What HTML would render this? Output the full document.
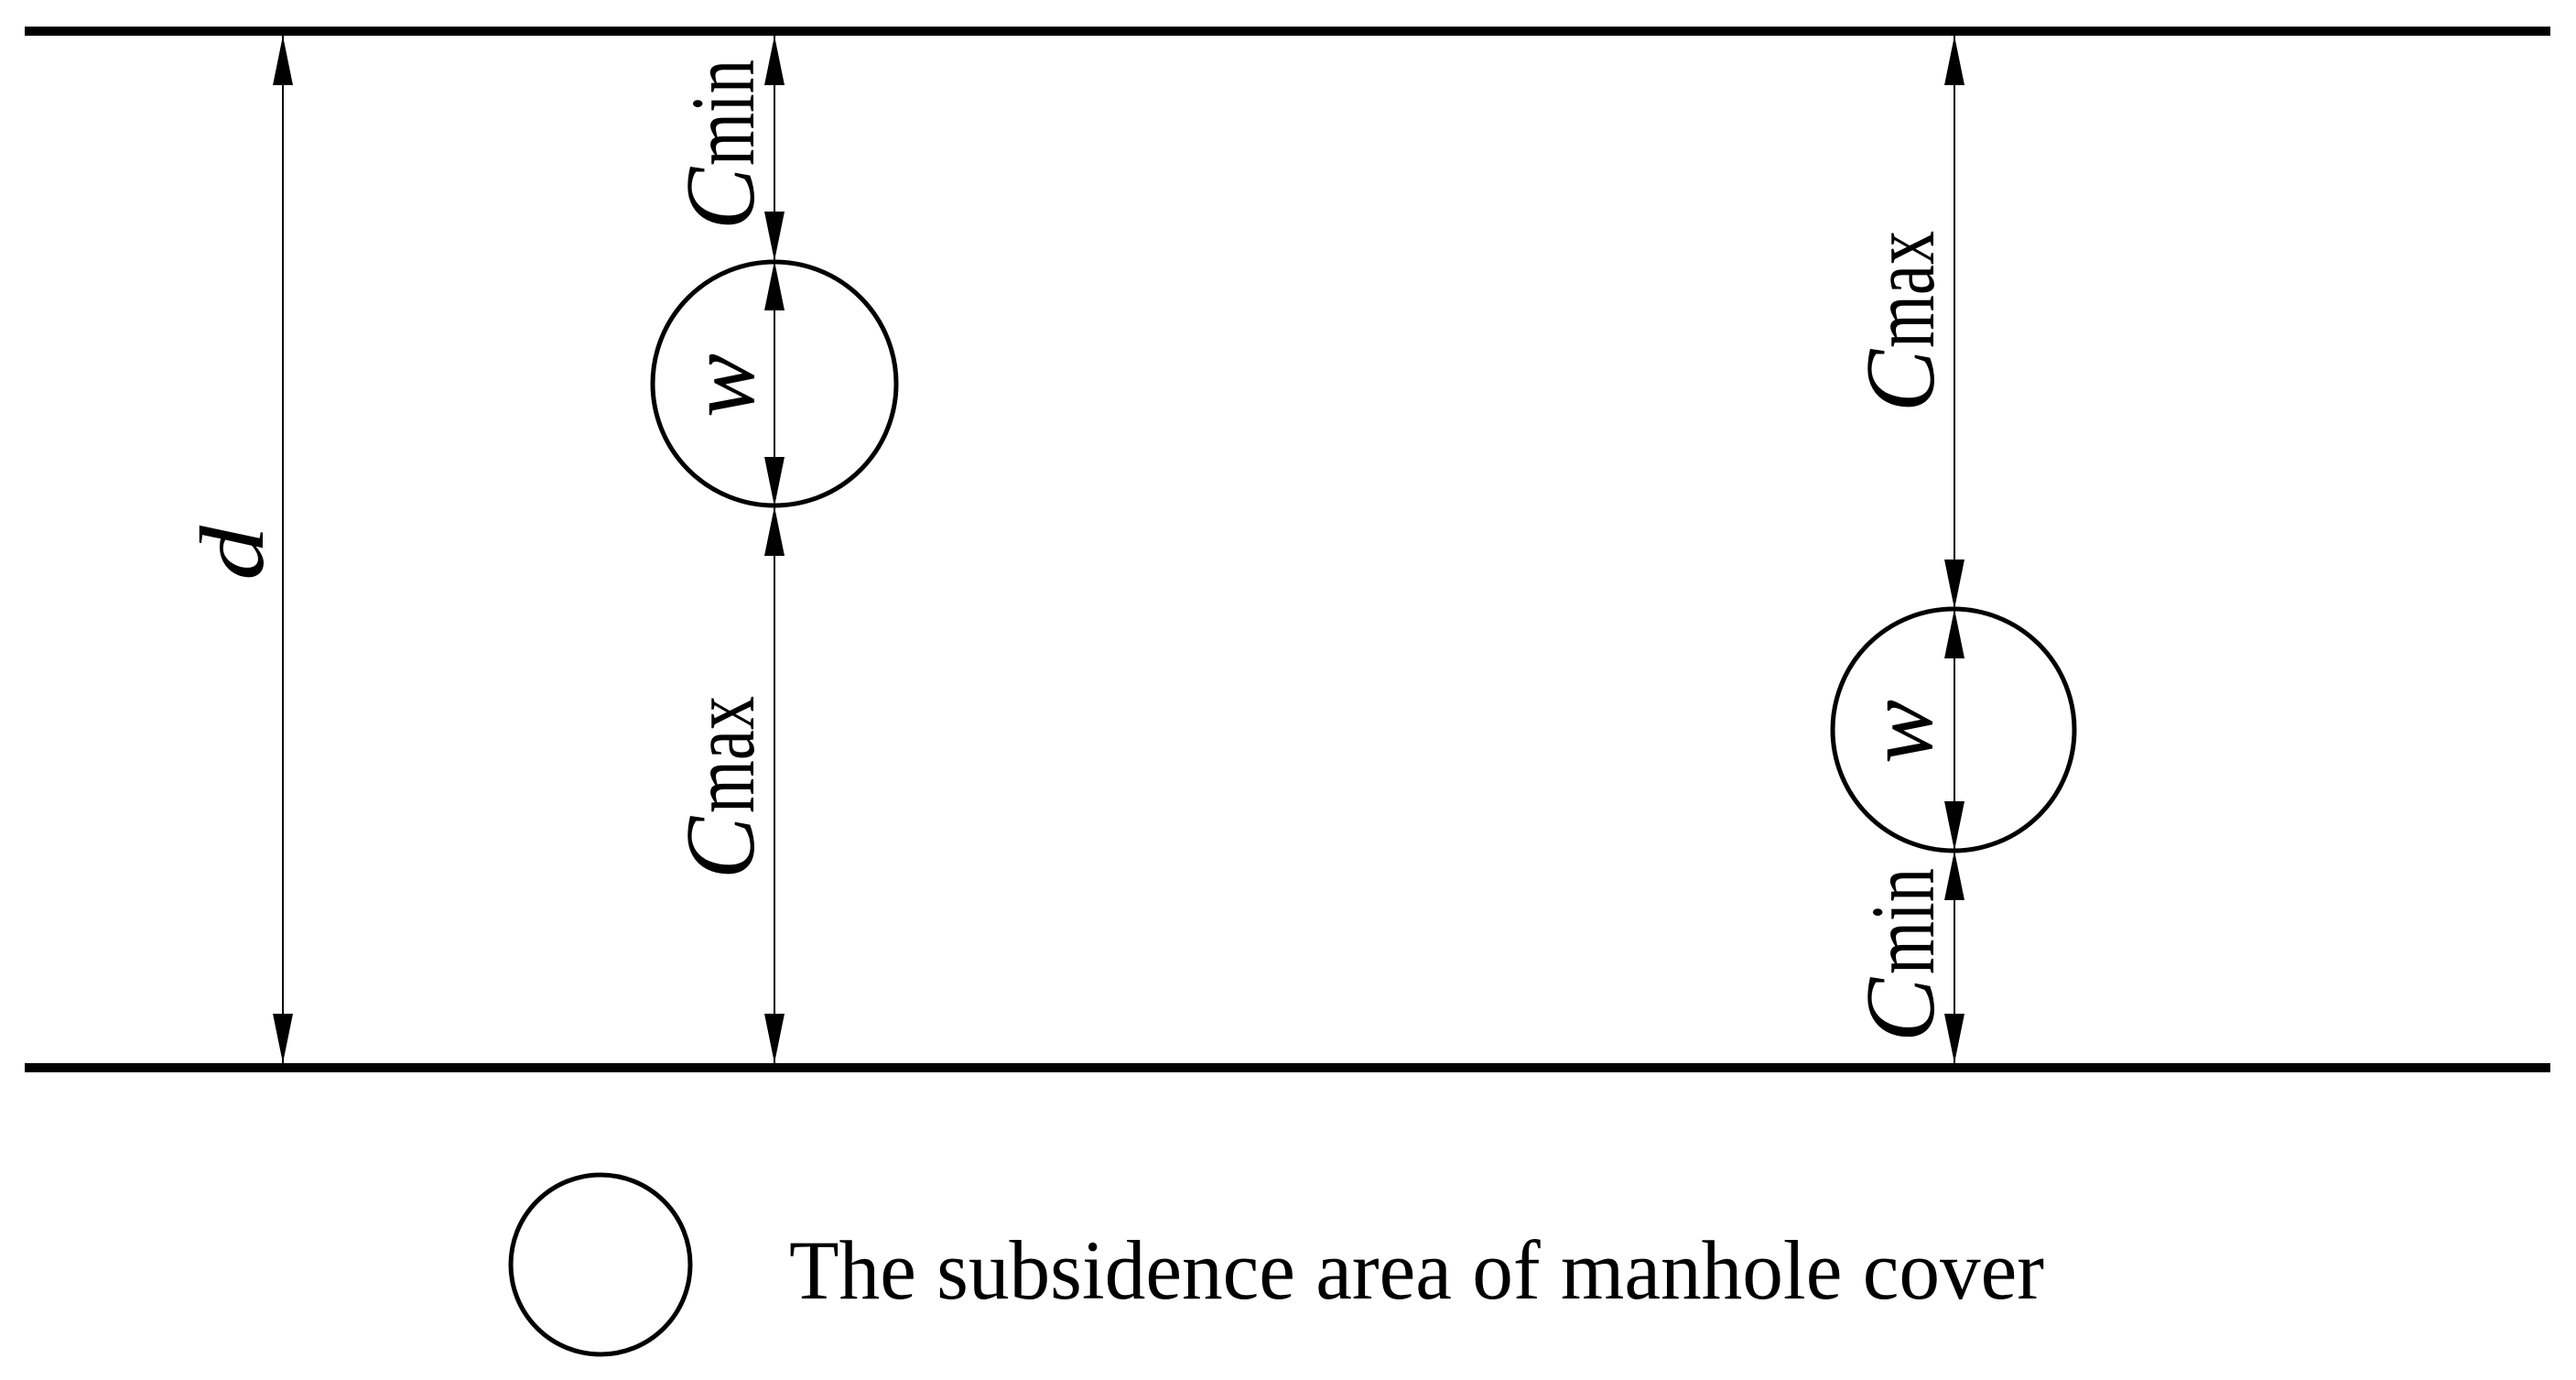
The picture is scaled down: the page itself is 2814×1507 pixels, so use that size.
<!DOCTYPE html>
<html><head><meta charset="utf-8"><style>html,body{margin:0;padding:0;background:#fff}svg{display:block}</style></head>
<body>
<svg width="2814" height="1507" viewBox="0 0 2814 1507" xmlns="http://www.w3.org/2000/svg" font-family="'Liberation Serif', serif">
<defs>
<marker id="a" markerWidth="54" markerHeight="22" refX="54" refY="11" orient="auto-start-reverse" markerUnits="userSpaceOnUse">
<path d="M0,0 L54,11 L0,22 Z" fill="#000"/>
</marker>
</defs>
<rect width="2814" height="1507" fill="#fff"/>
<line x1="27" y1="34" x2="2786" y2="34" stroke="#000" stroke-width="10"/>
<line x1="27" y1="1166" x2="2786" y2="1166" stroke="#000" stroke-width="10"/>
<g stroke="#000" stroke-width="2" marker-start="url(#a)" marker-end="url(#a)">
<line x1="309" y1="39" x2="309" y2="1161"/>
<line x1="846" y1="39" x2="846" y2="285"/>
<line x1="846" y1="285" x2="846" y2="553"/>
<line x1="846" y1="553" x2="846" y2="1161"/>
<line x1="2135" y1="39" x2="2135" y2="665"/>
<line x1="2135" y1="665" x2="2135" y2="929"/>
<line x1="2135" y1="929" x2="2135" y2="1161"/>
</g>
<circle cx="846" cy="419" r="133" fill="none" stroke="#000" stroke-width="5"/>
<circle cx="2134" cy="797" r="132" fill="none" stroke="#000" stroke-width="5"/>
<circle cx="656" cy="1381" r="98" fill="none" stroke="#000" stroke-width="5"/>
<g fill="#000">
<text transform="translate(823,251) rotate(-90)" font-size="108" font-style="italic" textLength="68" lengthAdjust="spacingAndGlyphs">C</text>
<text transform="translate(823,181) rotate(-90)" font-size="100" textLength="116" lengthAdjust="spacingAndGlyphs">min</text>
<text transform="translate(823,456) rotate(-90)" font-size="105" font-style="italic" textLength="70" lengthAdjust="spacingAndGlyphs">w</text>
<text transform="translate(823,960) rotate(-90)" font-size="108" font-style="italic" textLength="68" lengthAdjust="spacingAndGlyphs">C</text>
<text transform="translate(823,888) rotate(-90)" font-size="100" textLength="128" lengthAdjust="spacingAndGlyphs">max</text>
<text transform="translate(287,634) rotate(-90)" font-size="100" font-style="italic" textLength="60" lengthAdjust="spacingAndGlyphs">d</text>
<text transform="translate(2112,450) rotate(-90)" font-size="108" font-style="italic" textLength="68" lengthAdjust="spacingAndGlyphs">C</text>
<text transform="translate(2112,380) rotate(-90)" font-size="100" textLength="128" lengthAdjust="spacingAndGlyphs">max</text>
<text transform="translate(2110,834) rotate(-90)" font-size="105" font-style="italic" textLength="70" lengthAdjust="spacingAndGlyphs">w</text>
<text transform="translate(2112,1138) rotate(-90)" font-size="108" font-style="italic" textLength="70" lengthAdjust="spacingAndGlyphs">C</text>
<text transform="translate(2112,1064) rotate(-90)" font-size="100" textLength="116" lengthAdjust="spacingAndGlyphs">min</text>
<text x="862" y="1418" font-size="92" textLength="1371" lengthAdjust="spacingAndGlyphs">The subsidence area of manhole cover</text>
</g>
</svg>
</body></html>
